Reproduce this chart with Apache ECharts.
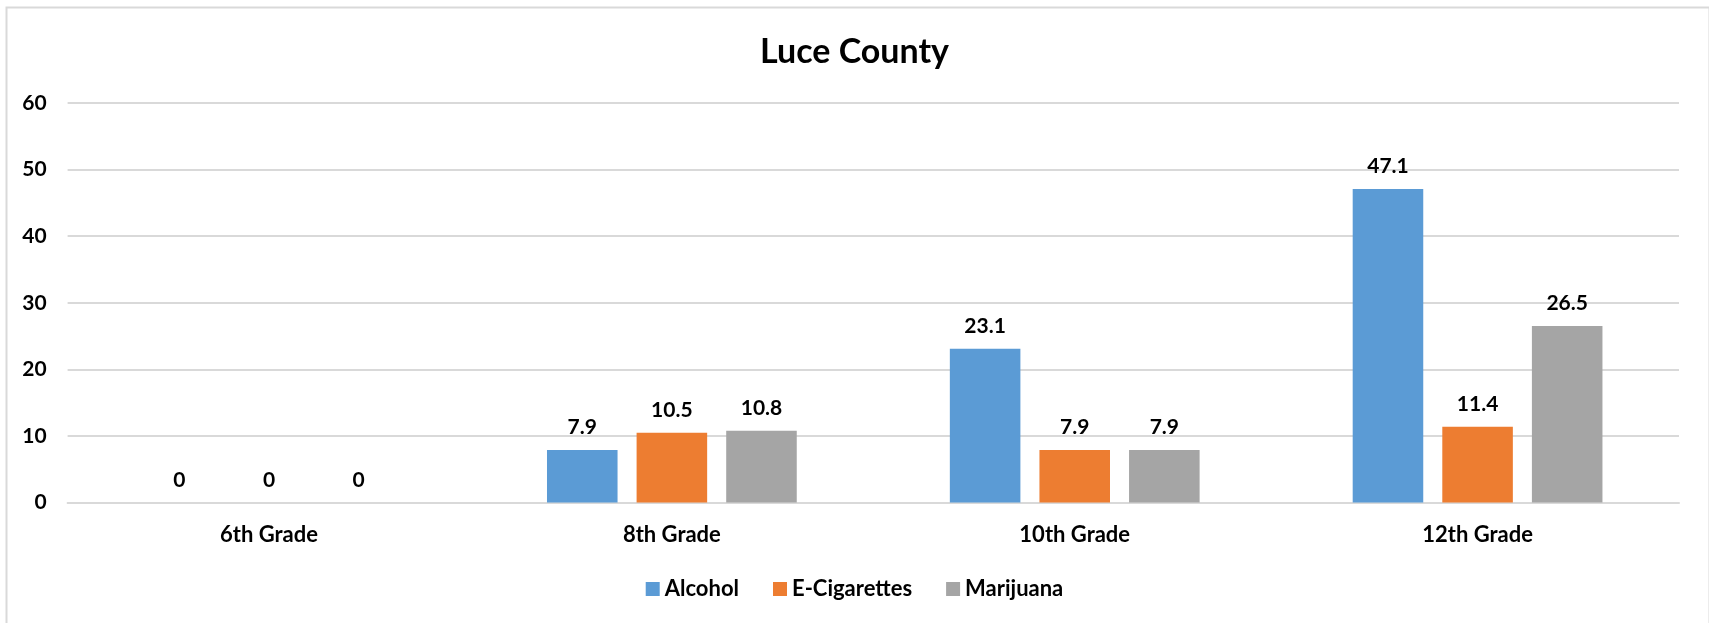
<!DOCTYPE html>
<html>
<head>
<meta charset="utf-8">
<script src="https://cdn.jsdelivr.net/npm/echarts@6/dist/echarts.min.js"></script>
<style>
html,body{margin:0;padding:0;background:#fff;}
#main{width:1709px;height:623px;}
</style>
</head>
<body>
<div id="main"></div>
<script>
const categories = ['6th Grade', '8th Grade', '10th Grade', '12th Grade'];
const alcohol = [0, 7.9, 23.1, 47.1];
const eCigarettes = [0, 10.5, 7.9, 11.4];
const marijuana = [0, 10.8, 7.9, 26.5];
const seriesNames = ['Alcohol', 'E-Cigarettes', 'Marijuana'];
const colors = ['#5B9BD5', '#ED7D31', '#A5A5A5'];

const FONT = 'Lato';
const chart = echarts.init(document.getElementById('main'));
const labelCfg = {
  show: true, position: 'top', distance: 12,
  fontFamily: FONT, fontWeight: 'bold', fontSize: 21, color: '#000'
};
function mk(name, data, color) {
  return {
    name: name, type: 'bar', data: data,
    barCategoryGap: '38%', barGap: '27%',
    itemStyle: { color: color },
    label: labelCfg
  };
}
chart.setOption({
  animation: false,
  graphic: [{
    type: 'rect', left: 4, top: 5,
    shape: { width: 1703, height: 700 },
    style: { fill: 'none', stroke: '#D9D9D9', lineWidth: 2 }
  }],
  title: {
    text: 'Luce County', left: 'center', top: 30,
    textStyle: { fontFamily: FONT, fontWeight: 'bold', fontSize: 34, color: '#000' }
  },
  legend: {
    data: seriesNames, left: 'center', top: 573,
    itemWidth: 14, itemHeight: 14, itemGap: 34, icon: 'rect',
    textStyle: { fontFamily: FONT, fontWeight: 'bold', fontSize: 22, color: '#000' }
  },
  grid: { left: 67.6, right: 30, top: 103, bottom: 120.4, containLabel: false },
  xAxis: {
    type: 'category', data: categories,
    axisLine: { show: true, lineStyle: { color: '#D9D9D9', width: 2 } },
    axisTick: { show: false },
    axisLabel: { margin: 21, fontFamily: FONT, fontWeight: 'bold', fontSize: 22, color: '#000' }
  },
  yAxis: {
    type: 'value', min: 0, max: 60, interval: 10,
    axisLine: { show: false }, axisTick: { show: false },
    splitLine: { lineStyle: { color: '#D9D9D9', width: 2 } },
    axisLabel: { margin: 21, fontFamily: FONT, fontWeight: 'bold', fontSize: 21, color: '#000' }
  },
  series: [
    mk(seriesNames[0], alcohol, colors[0]),
    mk(seriesNames[1], eCigarettes, colors[1]),
    mk(seriesNames[2], marijuana, colors[2])
  ]
});
</script>
</body>
</html>
